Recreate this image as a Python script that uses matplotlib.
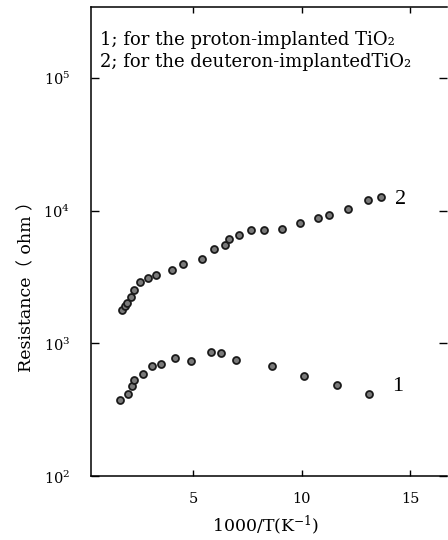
import matplotlib
matplotlib.use("Agg")
import matplotlib.pyplot as plt
from matplotlib.ticker import LogLocator, NullLocator

plt.rcParams["font.family"] = ["DejaVu Serif", "Noto Sans CJK JP"]
plt.rcParams["mathtext.fontset"] = "dejavuserif"

# series 2: deuteron-implanted TiO2
x2 = [1.73, 1.85, 1.97, 2.12, 2.28, 2.53, 2.90, 3.29, 4.04, 4.55, 5.39, 5.97,
      6.46, 6.67, 7.12, 7.65, 8.27, 9.11, 9.93, 10.76, 11.24, 12.14, 13.04, 13.64]
r2 = [1790, 1900, 2020, 2220, 2520, 2880, 3110, 3260, 3570, 3940, 4340, 5130,
      5470, 6110, 6580, 7100, 7130, 7230, 8030, 8710, 9200, 10310, 12020, 12630]

# series 1: proton-implanted TiO2
x1 = [1.65, 1.98, 2.16, 2.28, 2.67, 3.08, 3.51, 4.18, 4.88, 5.82, 6.29, 6.97,
      8.62, 10.10, 11.60, 13.11]
r1 = [376, 419, 479, 532, 590, 683, 698, 774, 743, 859, 848, 752,
      683, 573, 488, 416]

legend_lines = ["1; for the proton-implanted TiO₂",
                "2; for the deuteron-implantedTiO₂"]

fig = plt.figure(figsize=(4.48, 5.4), dpi=100)
ax = fig.add_axes([0.203, 0.1176, 0.795, 0.8694])

mk = dict(ls="none", marker="o", ms=5.0, mfc="#7a7a7a", mec="#1a1a1a", mew=1.3)
ax.plot(x1, r1, **mk)
ax.plot(x2, r2, **mk)

ax.set_yscale("log")
ax.set_xlim(0.29, 16.69)
ax.set_ylim(100, 10**5.53)

ax.set_xticks([5, 10, 15])
ax.yaxis.set_major_locator(LogLocator(base=10, numticks=10))
ax.yaxis.set_minor_locator(NullLocator())

ax.tick_params(axis="y", which="major", direction="in", length=6, width=1,
               right=True, labelsize=10.5, pad=15)
ax.tick_params(axis="x", direction="in", length=4, width=1, top=True,
               labelsize=10.5, pad=11)
ax.spines["right"].set_visible(False)
for s in ("left", "bottom", "top"):
    ax.spines[s].set_linewidth(1.1)

ax.set_xlabel("1000/T(K$^{-1}$)", fontsize=12.5)
ax.xaxis.set_label_coords(0.49, -0.078)
ax.set_ylabel("Resistance（ ohm ）", fontsize=12.5)
ax.yaxis.set_label_coords(-0.155, 0.414)

ax.text(0.025, 0.93, legend_lines[0], transform=ax.transAxes,
        fontsize=13, ha="left", va="center")
ax.text(0.025, 0.883, legend_lines[1], transform=ax.transAxes,
        fontsize=13, ha="left", va="center")

ax.text(14.53, 12000, "2", fontsize=16, ha="center", va="center",
        family="Liberation Serif")
ax.text(14.42, 473, "1", fontsize=16, ha="center", va="center",
        family="Liberation Serif")

fig.savefig("out.png", dpi=100)
